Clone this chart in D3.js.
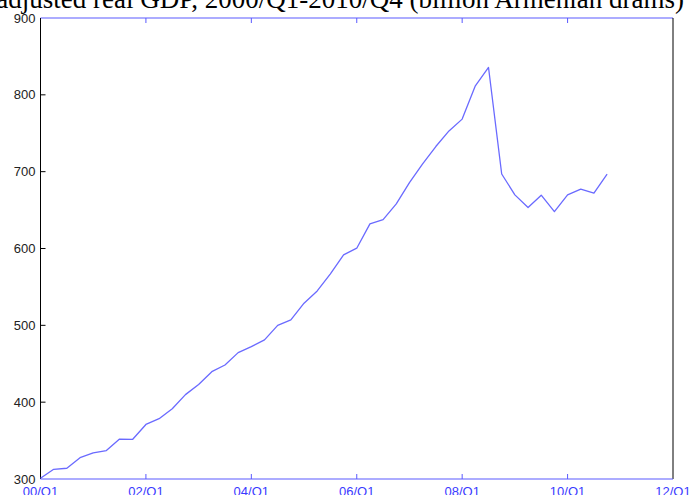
<!DOCTYPE html>
<html>
<head>
<meta charset="utf-8">
<script src="https://cdn.jsdelivr.net/npm/d3@7"></script>
<style>
  body { margin: 0; background: #fff; }
  svg { display: block; }
  .ylab { font-family: "Liberation Sans", Arial, sans-serif; font-size: 13px; fill: #222; }
  .xlab { font-family: "Liberation Sans", Arial, sans-serif; font-size: 13px; fill: #3a3aff; }
  .title { font-family: "Liberation Serif", "Times New Roman", serif; font-size: 27px; fill: #000; }
</style>
</head>
<body>
<svg id="chart" width="689" height="495"></svg>
<script>
// quarterly GDP, 2000/Q1 .. 2010/Q4 (billion drams)
const gdp = [301, 312.6, 314, 327.7, 334, 337, 352, 351.7, 371, 378.5, 391.5, 409.8,
  423, 439.7, 448.4, 464.5, 472.3, 481, 500, 507, 528.8, 544.8, 567, 591.7,
  600.4, 632, 637.5, 658, 685.8, 710, 732.7, 753, 768.4, 811.7, 835.6, 697,
  669.8, 653.3, 669.4, 648, 669.8, 677.2, 672, 696.7]
const xTicks = [0, 8, 16, 24, 32, 40, 48]
const xTickLabels = ['00/Q1', '02/Q1', '04/Q1', '06/Q1', '08/Q1', '10/Q1', '12/Q1']
const yTicks = [300, 400, 500, 600, 700, 800, 900]
const title = 'Seasonally adjusted real GDP, 2000/Q1-2010/Q4 (billion Armenian drams)'

const pLeft = 40.5, pRight = 673, pTop = 18, pBottom = 479
const blue = '#5a5aff'

let svg = d3.select('#chart')
let x = d3.scaleLinear().domain([0, 48]).range([pLeft, pRight])
let y = d3.scaleLinear().domain([300, 900]).range([pBottom, pTop])

// frame: top/bottom blue, left/right black
svg.append('line').attr('x1', pLeft).attr('x2', pRight).attr('y1', pTop).attr('y2', pTop)
  .attr('stroke', blue).attr('stroke-width', 1.2)
svg.append('line').attr('x1', pLeft).attr('x2', pLeft).attr('y1', pTop).attr('y2', pBottom)
  .attr('stroke', '#000').attr('stroke-width', 1)
svg.append('line').attr('x1', pRight).attr('x2', pRight).attr('y1', pTop).attr('y2', pBottom)
  .attr('stroke', '#000').attr('stroke-width', 1)

// y ticks, pointing inward
svg.append('g').selectAll('line')
  .data(yTicks.slice(1, -1))
  .enter()
  .append('line')
  .attr('x1', pLeft).attr('x2', pLeft + 5)
  .attr('y1', d => y(d)).attr('y2', d => y(d))
  .attr('stroke', '#000')

svg.append('g').selectAll('text')
  .data(yTicks)
  .enter()
  .append('text')
  .attr('class', 'ylab')
  .attr('x', pLeft - 5)
  .attr('y', d => y(d) + 4.5)
  .attr('text-anchor', 'end')
  .text(d => d)

// x ticks on bottom and top
let inner = xTicks.slice(1, -1)
svg.append('g').selectAll('line')
  .data(inner)
  .enter()
  .append('line')
  .attr('x1', d => x(d)).attr('x2', d => x(d))
  .attr('y1', pBottom).attr('y2', pBottom - 5)
  .attr('stroke', blue)
svg.append('g').selectAll('line')
  .data(inner)
  .enter()
  .append('line')
  .attr('x1', d => x(d)).attr('x2', d => x(d))
  .attr('y1', pTop).attr('y2', pTop + 5)
  .attr('stroke', blue)

svg.append('g').selectAll('text')
  .data(xTicks)
  .enter()
  .append('text')
  .attr('class', 'xlab')
  .attr('x', d => x(d))
  .attr('y', 496)
  .attr('text-anchor', 'middle')
  .text((d, i) => xTickLabels[i])

// the series
svg.append('path')
  .datum(gdp)
  .attr('fill', 'none')
  .attr('stroke', '#6a6aff')
  .attr('stroke-width', 1.3)
  .attr('stroke-linejoin', 'round')
  .attr('d', d3.line().x((d, i) => x(i)).y(d => y(d)))

svg.append('line').attr('x1', pLeft).attr('x2', pRight).attr('y1', pBottom).attr('y2', pBottom)
  .attr('stroke', blue).attr('stroke-width', 1.2)

svg.append('text')
  .attr('class', 'title')
  .attr('x', 684)
  .attr('y', 8)
  .attr('text-anchor', 'end')
  .text(title)
</script>
</body>
</html>
